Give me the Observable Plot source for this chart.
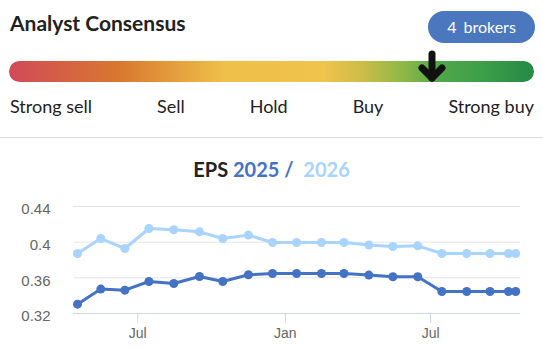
<!DOCTYPE html>
<html>
<head>
<meta charset="utf-8">
<script src="https://cdn.jsdelivr.net/npm/d3@7"></script>
<script src="https://cdn.jsdelivr.net/npm/@observablehq/plot@0.6"></script>
<style>
  html, body { margin: 0; padding: 0; background: #fff; }
  body { width: 543px; height: 358px; position: relative; overflow: hidden; font-family: Lato, "Open Sans", sans-serif; color: #222; }
  .abs { position: absolute; }
  #head { left: 10px; top: 11px; font-size: 21px; font-weight: 700; line-height: 24px; color: #222; white-space: nowrap; }
  #badge { left: 428px; top: 11px; width: 107px; height: 32px; border-radius: 16px; background: #4a77be; color: #fff; font-size: 16px; line-height: 32px; text-align: center; white-space: nowrap; }
  #bar { left: 9px; top: 61px; width: 525px; height: 21px; border-radius: 10.5px; }
  #arrow { left: 418px; top: 50px; }
  #labels { left: 10px; top: 95px; width: 524px; display: flex; justify-content: space-between; font-size: 18px; line-height: 22px; color: #222; white-space: nowrap; }
  #divider { left: 0; top: 137px; width: 543px; height: 1px; background: #dedede; }
  #title { left: 0; top: 157px; width: 543px; text-align: center; font-size: 20px; font-weight: 700; line-height: 24px; white-space: nowrap; }
  #chart { left: 0; top: 190px; }
</style>
</head>
<body>
<div id="head" class="abs"></div>
<div id="badge" class="abs"></div>
<div id="bar" class="abs"></div>
<svg id="arrow" class="abs" width="28" height="34" viewBox="0 0 28 34">
  <line x1="14" y1="4" x2="14" y2="28" stroke="#111" stroke-width="7" stroke-linecap="round"/>
  <polyline points="4,18 14,28 24,18" fill="none" stroke="#111" stroke-width="7" stroke-linecap="round" stroke-linejoin="round"/>
</svg>
<div id="labels" class="abs"></div>
<div id="divider" class="abs"></div>
<div id="title" class="abs"></div>
<div id="chart" class="abs"></div>
<script>
// ---- data ----
const headerTitle = "Analyst Consensus";
const brokerCount = 4;
const brokerWord = "brokers";
const ratingLabels = ["Strong sell", "Sell", "Hold", "Buy", "Strong buy"];
const consensusPosition = 0.806; // fraction along the rating scale

const chartTitleParts = ["EPS", "2025", "2026"];
const dates = ["2024-04-17","2024-05-16","2024-06-15","2024-07-15","2024-08-15","2024-09-16","2024-10-15","2024-11-16","2024-12-16","2025-01-15","2025-02-15","2025-03-15","2025-04-15","2025-05-15","2025-06-15","2025-07-15","2025-08-15","2025-09-13","2025-10-06","2025-10-15"];
const eps2025 = [0.3305,0.3474,0.3462,0.3559,0.3536,0.3615,0.3559,0.3634,0.3649,0.3649,0.3649,0.3649,0.3631,0.3612,0.3612,0.3447,0.3447,0.3447,0.3447,0.3447];
const eps2026 = [0.3873,0.4041,0.3929,0.4153,0.4139,0.4116,0.4041,0.4079,0.3996,0.3996,0.3996,0.3996,0.3967,0.3951,0.3959,0.3873,0.3873,0.3873,0.3873,0.3873];
const yTicks = [0.32, 0.36, 0.4, 0.44];
const yTickLabels = ["0.32", "0.36", "0.4", "0.44"];
const xTicks = ["2024-07-01", "2025-01-01", "2025-07-01"];
const xTickLabels = ["Jul", "Jan", "Jul"];

const color2025 = "#4472c4";
const color2026 = "#a8d4ff";

// ---- header ----
document.getElementById("head").textContent = headerTitle;
document.getElementById("badge").innerHTML = `${brokerCount}<span style="margin-left:7px">${brokerWord}</span>`;
document.getElementById("bar").style.background =
  "linear-gradient(to right, #d04a58 0%, #d9782f 21%, #efc04a 41%, #f0c34c 60%, #cdbd48 67%, #8fb846 75%, #4fa84a 82%, #3d9f49 90%, #248a45 100%)";
document.getElementById("arrow").style.left = (9 + consensusPosition * 525 - 14) + "px";
document.getElementById("labels").innerHTML = ratingLabels.map(l => `<span>${l}</span>`).join("");
document.getElementById("title").innerHTML =
  `<span style="color:#222">${chartTitleParts[0]}</span> <span style="color:${color2025}">${chartTitleParts[1]} /</span>&nbsp; <span style="color:${color2026}">${chartTitleParts[2]}</span>`;

// ---- chart ----
const parse = d => new Date(d + "T00:00:00Z");
const rows2025 = dates.map((d, i) => ({date: parse(d), value: eps2025[i]}));
const rows2026 = dates.map((d, i) => ({date: parse(d), value: eps2026[i]}));
const xDomain = [d3.utcDay.offset(parse(dates[0]), -5), d3.utcDay.offset(parse(dates[dates.length - 1]), 6)];
const xTickDates = xTicks.map(parse);

const chart = Plot.plot({
  width: 543,
  height: 160,
  marginTop: 16,
  marginBottom: 37,
  marginLeft: 73,
  marginRight: 23,
  style: {fontFamily: "'Liberation Sans', Arial, sans-serif", fontSize: "14px", color: "#666", background: "transparent", overflow: "visible"},
  x: {type: "utc", domain: xDomain},
  y: {domain: [yTicks[0], yTicks[yTicks.length - 1]]},
  marks: [
    Plot.gridY(yTicks.slice(1), {stroke: "#e6e6e6", strokeOpacity: 1, strokeWidth: 1}),
    Plot.ruleY([yTicks[0]], {stroke: "#ccd6eb", strokeWidth: 1}),
    Plot.axisY(yTicks, {tickSize: 0, tickPadding: 23, label: null, fontSize: 15, dy: 3, fill: "#666",
      tickFormat: d => yTickLabels[yTicks.indexOf(d)]}),
    Plot.axisX(xTickDates, {tickSize: 10, tickPadding: 5, label: null, stroke: "#ccd6eb", fill: "#666", fontSize: 14,
      tickFormat: d => xTickLabels[xTickDates.findIndex(t => +t === +d)]}),
    Plot.line(rows2026, {x: "date", y: "value", stroke: color2026, strokeWidth: 3}),
    Plot.dot(rows2026, {x: "date", y: "value", r: 4.5, fill: color2026}),
    Plot.line(rows2025, {x: "date", y: "value", stroke: color2025, strokeWidth: 3}),
    Plot.dot(rows2025, {x: "date", y: "value", r: 4.5, fill: color2025})
  ]
});
document.getElementById("chart").appendChild(chart);
</script>
</body>
</html>
